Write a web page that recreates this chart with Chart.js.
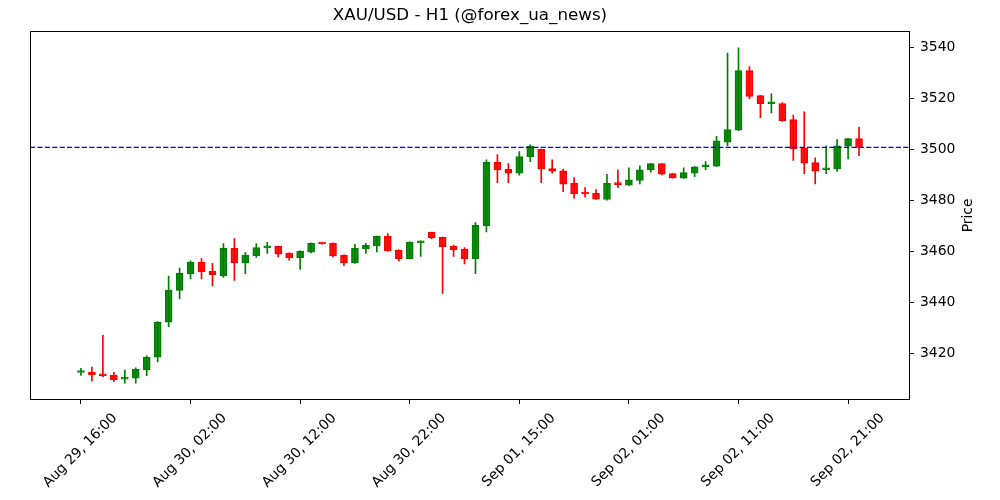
<!DOCTYPE html>
<html>
<head>
<meta charset="utf-8">
<script src="https://cdn.jsdelivr.net/npm/chart.js@4.4.0/dist/chart.umd.min.js"></script>
<style>
  html, body { margin: 0; padding: 0; background: #fff; }
  #wrap { width: 1000px; height: 500px; }
</style>
</head>
<body>
<div id="wrap"><canvas id="candleChart"></canvas></div>
<script>
// hourly candles
const times = [
  'Aug 29, 16:00','Aug 29, 17:00','Aug 29, 18:00','Aug 29, 19:00','Aug 29, 20:00','Aug 29, 21:00','Aug 29, 22:00','Aug 29, 23:00',
  'Aug 30, 00:00','Aug 30, 01:00','Aug 30, 02:00','Aug 30, 03:00','Aug 30, 04:00','Aug 30, 05:00','Aug 30, 06:00','Aug 30, 07:00',
  'Aug 30, 08:00','Aug 30, 09:00','Aug 30, 10:00','Aug 30, 11:00','Aug 30, 12:00','Aug 30, 13:00','Aug 30, 14:00','Aug 30, 15:00',
  'Aug 30, 16:00','Aug 30, 17:00','Aug 30, 18:00','Aug 30, 19:00','Aug 30, 20:00','Aug 30, 21:00','Aug 30, 22:00',
  'Sep 01, 06:00','Sep 01, 07:00','Sep 01, 08:00','Sep 01, 09:00','Sep 01, 10:00','Sep 01, 11:00','Sep 01, 12:00','Sep 01, 13:00',
  'Sep 01, 14:00','Sep 01, 15:00','Sep 01, 16:00','Sep 01, 17:00','Sep 01, 18:00','Sep 01, 19:00','Sep 01, 20:00','Sep 01, 21:00',
  'Sep 01, 22:00','Sep 01, 23:00','Sep 02, 00:00','Sep 02, 01:00','Sep 02, 02:00','Sep 02, 03:00','Sep 02, 04:00','Sep 02, 05:00',
  'Sep 02, 06:00','Sep 02, 07:00','Sep 02, 08:00','Sep 02, 09:00','Sep 02, 10:00','Sep 02, 11:00','Sep 02, 12:00','Sep 02, 13:00',
  'Sep 02, 14:00','Sep 02, 15:00','Sep 02, 16:00','Sep 02, 17:00','Sep 02, 18:00','Sep 02, 19:00','Sep 02, 20:00','Sep 02, 21:00',
  'Sep 02, 22:00'
];

const opens = [
  3412.5, 3412.6, 3411.9, 3411.5, 3409.9, 3410.3, 3413.5, 3418.5, 3432.2, 3444.7,
  3451.2, 3455.8, 3452.2, 3450.4, 3461.2, 3455.5, 3458.2, 3461.4, 3462.0, 3459.3,
  3457.4, 3459.7, 3463.2, 3463.2, 3458.5, 3455.5, 3461.0, 3462.1, 3465.9, 3460.5,
  3457.1, 3463.3, 3467.5, 3465.5, 3462.0, 3460.9, 3457.1, 3470.0, 3494.9, 3492.2,
  3490.7, 3497.0, 3500.0, 3492.5, 3491.6, 3486.7, 3482.9, 3482.8, 3480.4, 3486.8,
  3486.0, 3487.8, 3491.9, 3494.4, 3490.5, 3488.7, 3490.7, 3493.2, 3493.4, 3502.8,
  3507.5, 3530.9, 3521.1, 3517.9, 3518.0, 3511.7, 3500.5, 3494.8, 3492.0, 3492.3,
  3501.3, 3504.2
];
const highs = [
  3414.1, 3414.6, 3427.1, 3412.6, 3413.4, 3414.3, 3419.0, 3432.5, 3450.3, 3453.4,
  3456.3, 3457.2, 3455.3, 3463.1, 3465.0, 3459.6, 3463.1, 3463.5, 3462.1, 3459.4,
  3460.2, 3463.3, 3463.3, 3463.3, 3458.6, 3462.8, 3463.2, 3466.0, 3467.0, 3460.6,
  3463.7, 3464.1, 3467.6, 3465.6, 3462.5, 3461.5, 3471.3, 3495.9, 3498.0, 3494.4,
  3499.1, 3501.8, 3500.1, 3495.9, 3492.2, 3488.9, 3485.0, 3484.2, 3490.2, 3492.0,
  3492.8, 3493.6, 3494.5, 3494.5, 3490.6, 3492.8, 3493.3, 3495.2, 3505.1, 3537.8,
  3539.8, 3532.5, 3521.2, 3521.8, 3518.4, 3513.5, 3514.7, 3496.7, 3501.3, 3503.8,
  3504.3, 3508.7
];
const lows = [
  3411.3, 3409.1, 3410.9, 3408.9, 3408.3, 3408.3, 3411.2, 3416.6, 3430.5, 3441.4,
  3449.2, 3449.2, 3446.4, 3449.8, 3448.6, 3451.3, 3457.6, 3459.2, 3457.8, 3456.5,
  3452.9, 3459.4, 3462.8, 3457.8, 3454.4, 3455.3, 3459.2, 3459.8, 3460.0, 3456.3,
  3457.0, 3458.0, 3464.9, 3443.5, 3458.0, 3455.1, 3451.3, 3467.6, 3486.9, 3486.9,
  3489.9, 3495.2, 3486.9, 3490.7, 3483.4, 3480.9, 3481.3, 3480.4, 3480.1, 3485.0,
  3485.8, 3486.5, 3491.1, 3490.0, 3488.7, 3488.6, 3489.3, 3492.0, 3493.2, 3501.5,
  3507.3, 3519.8, 3512.4, 3514.3, 3511.0, 3495.7, 3490.5, 3486.5, 3490.5, 3491.4,
  3496.3, 3497.5
];
const closes = [
  3412.7, 3411.6, 3411.2, 3409.7, 3410.5, 3413.8, 3418.5, 3432.3, 3444.8, 3451.5,
  3455.8, 3452.0, 3450.9, 3461.2, 3455.5, 3458.5, 3461.5, 3462.1, 3458.9, 3457.4,
  3460.1, 3463.2, 3462.9, 3458.2, 3455.5, 3461.2, 3462.4, 3465.9, 3460.2, 3457.1,
  3463.6, 3464.0, 3465.3, 3461.8, 3460.6, 3457.1, 3470.2, 3494.9, 3491.9, 3490.7,
  3497.2, 3501.2, 3492.3, 3491.5, 3486.4, 3482.5, 3482.5, 3480.5, 3486.7, 3486.2,
  3488.1, 3492.0, 3494.4, 3490.3, 3488.8, 3490.9, 3493.2, 3493.8, 3503.4, 3507.8,
  3530.9, 3520.8, 3517.9, 3518.5, 3511.2, 3500.3, 3494.6, 3491.5, 3492.7, 3501.4,
  3504.2, 3500.8
];

const tickIdx = [0, 10, 20, 30, 40, 50, 60, 70];
const yTicks = [3420, 3440, 3460, 3480, 3500, 3520, 3540];

const xMin = -4.65, xMax = times.length - 1 + 4.65;
const yMin = 3401.7, yMax = 3546.5;

const upColor = 'rgba(0, 128, 0, 0.9)';
const downColor = 'rgba(255, 0, 0, 0.9)';
const colors = closes.map((c, i) => c >= opens[i] ? upColor : downColor);
const lastClose = closes[closes.length - 1];

Chart.defaults.font.family = '"DejaVu Sans", sans-serif';
Chart.defaults.color = '#000';

// box round the plot + right-hand "Price" label like matplotlib
const framePlugin = {
  id: 'frame',
  afterDraw(chart) {
    const { ctx, chartArea: a } = chart;
    ctx.save();
    ctx.strokeStyle = '#000';
    ctx.lineWidth = 1;
    ctx.strokeRect(Math.round(a.left) + 0.5, Math.round(a.top) + 0.5,
      Math.round(a.right - a.left) - 1, Math.round(a.bottom - a.top) - 1);
    ctx.translate(a.right + 58, (a.top + a.bottom) / 2);
    ctx.rotate(-Math.PI / 2);
    ctx.font = '13.9px "DejaVu Sans", sans-serif';
    ctx.fillStyle = '#000';
    ctx.textAlign = 'center';
    ctx.textBaseline = 'middle';
    ctx.fillText('Price', 0, 0);
    ctx.restore();
  }
};

const ctx = document.getElementById('candleChart').getContext('2d');
const candleChart = new Chart(ctx, {
  type: 'bar',
  data: {
    datasets: [
      {
        label: 'wick',
        data: times.map((t, i) => ({ x: i, y: [lows[i], highs[i]] })),
        backgroundColor: colors.map(c => c.replace('0.9', '1')),
        barThickness: 1,
        grouped: false,
        order: 2
      },
      {
        label: 'body',
        data: times.map((t, i) => ({ x: i, y: [opens[i], closes[i]] })),
        backgroundColor: colors,
        borderColor: colors.map(c => c.replace('0.9', '1')),
        borderWidth: 1,
        borderSkipped: false,
        barThickness: 7,
        minBarLength: 2,
        grouped: false,
        order: 1
      },
      {
        type: 'line',
        label: 'last',
        data: [{ x: xMin, y: lastClose }, { x: xMax, y: lastClose }],
        borderColor: '#0000ff',
        borderWidth: 1.1,
        borderDash: [5.2, 2.2],
        pointRadius: 0,
        order: 0
      }
    ]
  },
  options: {
    responsive: true,
    maintainAspectRatio: false,
    animation: false,
    layout: { padding: { left: 30, right: 0, top: 0, bottom: 0 } },
    plugins: {
      legend: { display: false },
      tooltip: { enabled: false },
      title: {
        display: true,
        text: 'XAU/USD - H1 (@forex_ua_news)',
        fullSize: false,
        color: '#000',
        font: { size: 16.7, weight: 'normal' },
        padding: { top: 6, bottom: 4.8 }
      }
    },
    scales: {
      x: {
        type: 'linear',
        min: xMin,
        max: xMax,
        offset: false,
        afterBuildTicks: axis => { axis.ticks = tickIdx.map(v => ({ value: v })); },
        afterFit: axis => { axis.height = 100; },
        grid: { offset: false, drawOnChartArea: false, drawTicks: true, tickLength: 4, color: '#000' },
        border: { display: false },
        ticks: {
          autoSkip: false,
          minRotation: 45,
          maxRotation: 45,
          labelOffset: 34,
          padding: 6,
          font: { size: 13.9 },
          callback: v => times[v]
        }
      },
      y: {
        position: 'right',
        min: yMin,
        max: yMax,
        afterBuildTicks: axis => { axis.ticks = yTicks.map(v => ({ value: v })); },
        afterFit: axis => { axis.width = 90; },
        grid: { offset: false, drawOnChartArea: false, drawTicks: true, tickLength: 4, color: '#000' },
        border: { display: false },
        ticks: {
          padding: 6,
          font: { size: 13.9 },
          callback: v => String(v)
        }
      }
    }
  },
  plugins: [framePlugin]
});
</script>
</body>
</html>
